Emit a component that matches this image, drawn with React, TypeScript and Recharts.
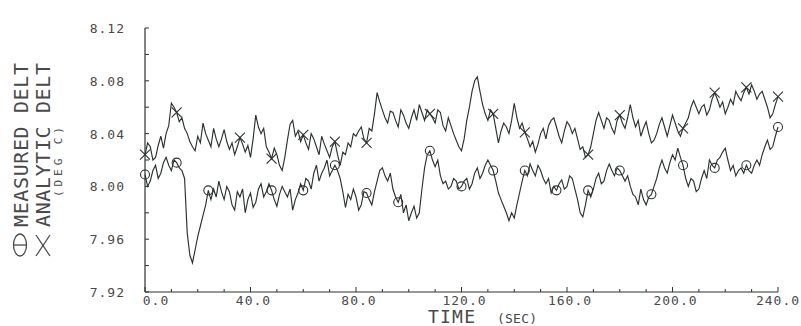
import { LineChart, Line, XAxis, YAxis } from "recharts";

const TIME_STEP = 1;

// analytic delta-T (x markers), t = 0..240 s
const analyticDelt = [
  8.024, 8.033, 8.030, 8.020, 8.022, 8.031, 8.038, 8.029, 8.040, 8.046,
  8.063, 8.060, 8.056, 8.049, 8.052, 8.044, 8.040, 8.034, 8.030, 8.027,
  8.038, 8.033, 8.048, 8.040, 8.035, 8.030, 8.044, 8.036, 8.030, 8.036,
  8.043, 8.034, 8.028, 8.033, 8.024, 8.030, 8.037, 8.032, 8.026, 8.031,
  8.022, 8.036, 8.054, 8.045, 8.040, 8.044, 8.030, 8.026, 8.021, 8.029,
  8.024, 8.016, 8.012, 8.022, 8.035, 8.047, 8.050, 8.038, 8.042, 8.034,
  8.039, 8.033, 8.028, 8.040, 8.036, 8.030, 8.024, 8.038, 8.032, 8.027,
  8.022, 8.030, 8.034, 8.024, 8.016, 8.026, 8.024, 8.033, 8.030, 8.040,
  8.038, 8.042, 8.045, 8.036, 8.033, 8.044, 8.042, 8.055, 8.071, 8.064,
  8.058, 8.052, 8.048, 8.057, 8.056, 8.050, 8.045, 8.058, 8.054, 8.048,
  8.044, 8.052, 8.058, 8.050, 8.062, 8.056, 8.050, 8.058, 8.055, 8.052,
  8.048, 8.058, 8.056, 8.046, 8.042, 8.052, 8.046, 8.040, 8.035, 8.030,
  8.027, 8.036, 8.050, 8.060, 8.072, 8.080, 8.083, 8.072, 8.062, 8.055,
  8.050, 8.058, 8.055, 8.044, 8.033, 8.042, 8.048, 8.045, 8.040, 8.050,
  8.063, 8.052, 8.044, 8.048, 8.041, 8.036, 8.030, 8.034, 8.026, 8.032,
  8.040, 8.044, 8.036, 8.046, 8.050, 8.052, 8.045, 8.038, 8.033, 8.042,
  8.049, 8.046, 8.040, 8.044, 8.036, 8.028, 8.030, 8.022, 8.024, 8.030,
  8.040, 8.050, 8.056, 8.050, 8.044, 8.052, 8.050, 8.044, 8.040, 8.050,
  8.054, 8.048, 8.044, 8.052, 8.062, 8.052, 8.045, 8.050, 8.038, 8.044,
  8.049, 8.040, 8.033, 8.035, 8.040, 8.047, 8.052, 8.045, 8.038, 8.046,
  8.054, 8.048, 8.042, 8.038, 8.044, 8.048, 8.052, 8.060, 8.065, 8.060,
  8.055, 8.060, 8.062, 8.054, 8.058, 8.066, 8.071, 8.066, 8.060, 8.064,
  8.055, 8.060, 8.066, 8.062, 8.072, 8.068, 8.065, 8.071, 8.075, 8.070,
  8.077, 8.072, 8.066, 8.070, 8.072, 8.066, 8.060, 8.052, 8.055, 8.062,
  8.068,
];

// measured delta-T (circle markers)
const measuredDelt = [
  8.009, 8.000, 8.004, 8.012, 8.016, 8.006, 8.010, 8.018, 8.022, 8.016,
  8.012, 8.020, 8.018, 8.014, 8.012, 8.006, 7.965, 7.948, 7.942, 7.952,
  7.962, 7.970, 7.978, 7.986, 7.997, 7.990, 7.998, 7.992, 8.004, 7.996,
  7.990, 8.000, 7.996, 7.986, 7.982, 7.996, 7.992, 7.998, 7.980, 7.990,
  7.995, 7.984, 7.988, 7.998, 8.002, 7.992, 7.996, 8.002, 7.997, 7.990,
  7.985, 7.994, 8.000, 7.996, 7.992, 7.998, 7.982, 7.990, 7.995, 8.002,
  7.997, 8.006, 8.004, 7.998, 8.010, 8.016, 8.004, 8.010, 8.014, 8.020,
  8.008, 8.012, 8.016, 8.012, 8.006, 7.996, 7.984, 7.994, 7.990, 7.998,
  7.992, 7.982, 7.986, 7.996, 7.995, 7.990, 7.986, 7.996, 8.004, 8.012,
  8.014, 8.008, 8.004, 8.010, 7.998, 7.992, 7.988, 7.994, 7.980, 7.986,
  7.974, 7.980, 7.985, 7.976, 7.980, 7.998, 8.014, 8.024, 8.027, 8.020,
  8.015, 8.020, 8.008, 8.002, 8.004, 7.998, 8.000, 8.006, 8.004, 7.998,
  8.000, 8.004, 8.006, 7.998, 8.002, 8.010, 8.014, 8.006, 8.010, 8.016,
  8.020, 8.016, 8.012, 8.004, 7.995, 7.990, 7.985, 7.980, 7.974, 7.980,
  7.976, 7.986, 7.995, 8.004, 8.012, 8.008, 8.017, 8.012, 8.008, 8.016,
  8.012, 8.006, 8.002, 8.006, 7.995, 8.000, 7.997, 8.002, 8.005, 7.998,
  8.000, 8.008, 8.006, 7.998, 7.990, 7.980, 7.977, 7.986, 7.997, 7.992,
  7.998, 8.006, 8.010, 8.002, 8.004, 8.012, 8.017, 8.012, 8.008, 8.014,
  8.012, 8.008, 8.004, 8.008, 8.000, 7.994, 7.992, 7.986, 7.998, 7.990,
  7.986, 7.992, 7.994, 8.000, 8.006, 8.014, 8.020, 8.014, 8.010, 8.018,
  8.024, 8.020, 8.029, 8.022, 8.016, 8.006, 8.000, 8.006, 8.004, 7.996,
  7.998, 8.006, 8.012, 8.006, 8.020, 8.016, 8.014, 8.020, 8.022, 8.026,
  8.029, 8.020, 8.012, 8.016, 8.008, 8.012, 8.014, 8.010, 8.016, 8.012,
  8.010, 8.016, 8.020, 8.016, 8.024, 8.030, 8.035, 8.028, 8.030, 8.038,
  8.045,
];

// times where the plotter dropped a symbol on each trace
const analyticMarks = [0, 12, 36, 48, 60, 72, 84, 108, 132, 144, 168, 180, 204, 216, 228, 240];
const measuredMarks = [0, 12, 24, 48, 60, 72, 84, 96, 108, 120, 132, 144, 156, 168, 180, 192, 204, 216, 228, 240];

const xTicks = [0, 10, 20, 30, 40, 50, 60, 70, 80, 90, 100, 110, 120, 130, 140, 150, 160, 170, 180, 190, 200, 210, 220, 230, 240];
const xLabels = [0, 40, 80, 120, 160, 200, 240];
const yTicks = [7.92, 7.94, 7.96, 7.98, 8.0, 8.02, 8.04, 8.06, 8.08, 8.1, 8.12];
const yLabels = [7.92, 7.96, 8.0, 8.04, 8.08, 8.12];

const data = analyticDelt.map((a, i) => ({
  t: i * TIME_STEP,
  analytic: a,
  measured: measuredDelt[i],
}));

const INK = "#2c332f";
const TEXT = "#4a4a4a";
const FONT = "'DejaVu Sans Mono', monospace";

const XTick = (props: any) => {
  const { x, y, payload } = props;
  const v = payload.value;
  const axisY = y - 4;
  const major = v % 40 === 0;
  const shift = v === 0 ? 11 : v === 240 ? 0 : 3;
  return (
    <g>
      <line x1={x} x2={x} y1={axisY} y2={axisY - (major ? 5 : 3)} stroke={INK} strokeWidth={1} />
      {xLabels.includes(v) && (
        <text
          x={x}
          y={axisY + 13}
          dx={shift}
          textAnchor="middle"
          fontFamily={FONT}
          fontSize={13}
          letterSpacing={1}
          fill={TEXT}
        >
          {v.toFixed(1)}
        </text>
      )}
    </g>
  );
};

const YTick = (props: any) => {
  const { x, y, payload } = props;
  const v = payload.value;
  const axisX = x + 20;
  const labelled = yLabels.some((l) => Math.abs(l - v) < 1e-6);
  return (
    <g>
      <line x1={axisX} x2={axisX + 4} y1={y} y2={y} stroke={INK} strokeWidth={1} />
      {labelled && (
        <text
          x={x}
          y={y + 5}
          textAnchor="end"
          fontFamily={FONT}
          fontSize={13}
          letterSpacing={1}
          fill={TEXT}
        >
          {v.toFixed(2)}
        </text>
      )}
    </g>
  );
};

const CrossDot = (props: any) => {
  const { cx, cy, payload, index } = props;
  if (!analyticMarks.includes(payload.t)) return <g key={`a${index}`} />;
  const s = 5;
  return (
    <g key={`a${index}`}>
      <line x1={cx - s} y1={cy - s} x2={cx + s} y2={cy + s} stroke={INK} strokeWidth={1.1} />
      <line x1={cx - s} y1={cy + s} x2={cx + s} y2={cy - s} stroke={INK} strokeWidth={1.1} />
    </g>
  );
};

const CircleDot = (props: any) => {
  const { cx, cy, payload, index } = props;
  if (!measuredMarks.includes(payload.t)) return <g key={`m${index}`} />;
  return <circle key={`m${index}`} cx={cx} cy={cy} r={4.5} fill="none" stroke={INK} strokeWidth={1.1} />;
};

export default function App() {
  return (
    <div style={{ position: "absolute", left: 0, top: 0, width: 801, height: 326, background: "#fff" }}>
      <LineChart width={801} height={326} data={data} margin={{ top: 28, right: 23, bottom: 0, left: 85 }}>
        <XAxis
          dataKey="t"
          type="number"
          domain={[0, 240]}
          ticks={xTicks}
          interval={0}
          height={34}
          tickSize={0}
          tickMargin={4}
          tick={<XTick />}
          axisLine={{ stroke: INK, strokeWidth: 1.2 }}
          tickLine={false}
        />
        <YAxis
          type="number"
          domain={[7.92, 8.12]}
          ticks={yTicks}
          interval={0}
          width={60}
          tickSize={0}
          tickMargin={20}
          tick={<YTick />}
          axisLine={{ stroke: INK, strokeWidth: 1.2 }}
          tickLine={false}
          allowDataOverflow
        />
        <Line
          dataKey="analytic"
          stroke={INK}
          strokeWidth={1.15}
          dot={<CrossDot />}
          activeDot={false}
          isAnimationActive={false}
        />
        <Line
          dataKey="measured"
          stroke={INK}
          strokeWidth={1.15}
          dot={<CircleDot />}
          activeDot={false}
          isAnimationActive={false}
        />
      </LineChart>
      <svg
        width={801}
        height={326}
        style={{ position: "absolute", left: 0, top: 0, pointerEvents: "none" }}
      >
        <g fontFamily={FONT} fill={TEXT}>
          <text transform="translate(28,227) rotate(-90)" fontSize={20} textLength={164} lengthAdjust="spacing">
            MEASURED DELT
          </text>
          <text transform="translate(50,227) rotate(-90)" fontSize={20} textLength={164} lengthAdjust="spacing">
            ANALYTIC DELT
          </text>
          <text transform="translate(62,197) rotate(-90)" fontSize={11} textLength={70} lengthAdjust="spacing">
            (DEG C)
          </text>
          <text x={428} y={323} fontSize={18} textLength={47} lengthAdjust="spacing">
            TIME
          </text>
          <text x={497} y={323} fontSize={13} textLength={40} lengthAdjust="spacing">
            (SEC)
          </text>
        </g>
        <g stroke={TEXT} strokeWidth={1.3} fill="none">
          <ellipse cx={20} cy={245} rx={6.5} ry={11} />
          <line x1={13.5} y1={245} x2={26.5} y2={245} />
          <line x1={36} y1={235} x2={50} y2={256} />
          <line x1={50} y1={235} x2={36} y2={256} />
        </g>
      </svg>
    </div>
  );
}
